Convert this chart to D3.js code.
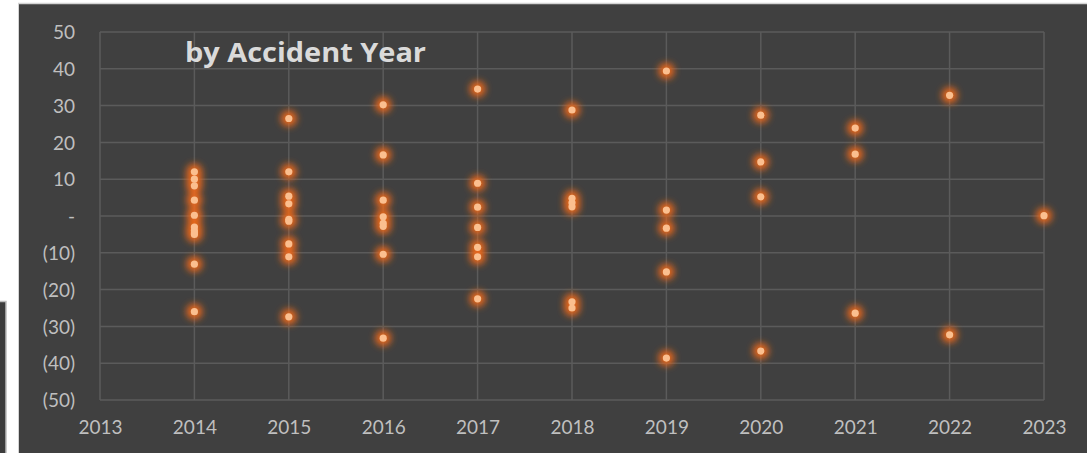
<!DOCTYPE html>
<html>
<head>
<meta charset="utf-8">
<script src="https://cdn.jsdelivr.net/npm/d3@7"></script>
<style>
  html, body { margin: 0; padding: 0; background: #fff; }
  svg { display: block; }
</style>
</head>
<body>
<svg id="chart" width="1087" height="453"></svg>
<script>
// Scatter of development by accident year

const years = [2014, 2015, 2016, 2017, 2018, 2019, 2020, 2021, 2022, 2023];
const values = [
  [12.0, 10.0, 8.2, 4.3, 0.2, -3.0, -4.0, -4.6, -5.0, -13.1, -26.0],
  [26.5, 12.0, 5.4, 3.3, -0.9, -1.4, -7.6, -11.1, -27.4],
  [30.2, 16.6, 4.3, -0.2, -2.0, -2.8, -10.4, -33.2],
  [34.5, 8.9, 2.4, -3.1, -8.5, -11.1, -22.5],
  [28.8, 4.8, 3.6, 2.5, -23.3, -25.0],
  [39.4, 1.6, -3.3, -15.2, -38.6],
  [27.4, 14.7, 5.2, -36.7],
  [23.9, 16.8, -26.4],
  [32.8, -32.3],
  [0.1]
];
const xTicks = d3.range(2013, 2024);
const yTicks = d3.range(-50, 51, 10);
const title = 'by Accident Year';

const svg = d3.select('#chart');

// panel background
svg.append('rect')
  .attr('x', 19).attr('y', 4).attr('width', 1068).attr('height', 449)
  .attr('fill', '#404040');
svg.append('line')
  .attr('x1', 18).attr('x2', 1087).attr('y1', 3.5).attr('y2', 3.5)
  .attr('stroke', '#d4d4d4').attr('stroke-width', 1.5);
svg.append('line')
  .attr('x1', 18.5).attr('x2', 18.5).attr('y1', 3).attr('y2', 453)
  .attr('stroke', '#d4d4d4').attr('stroke-width', 1);

// neighbouring chart peeking in at the left
svg.append('rect')
  .attr('x', -2).attr('y', 301.5).attr('width', 8).attr('height', 160)
  .attr('fill', '#3c3c3c').attr('stroke', '#bdbdbd').attr('stroke-width', 1.5);

const x = d3.scaleLinear().domain([2013, 2023]).range([100, 1044]);
const y = d3.scaleLinear().domain([-50, 50]).range([400, 32]);

const defs = svg.append('defs');
const glow = defs.append('filter').attr('id', 'glow')
  .attr('x', '-200%').attr('y', '-200%').attr('width', '500%').attr('height', '500%');
glow.append('feGaussianBlur').attr('stdDeviation', 3.5);

// grid
const grid = svg.append('g').attr('stroke', '#5b5b5b').attr('stroke-width', 1.5);
grid.selectAll('line.h').data(yTicks).join('line')
  .attr('class', 'h')
  .attr('x1', x(2013)).attr('x2', x(2023))
  .attr('y1', d => y(d)).attr('y2', d => y(d));
grid.selectAll('line.v').data(xTicks).join('line')
  .attr('class', 'v')
  .attr('x1', d => x(d)).attr('x2', d => x(d))
  .attr('y1', y(50)).attr('y2', y(-50));

// axes
const fmt = d => d === 0 ? '-' : d < 0 ? `(${-d})` : `${d}`;
const yAxis = svg.append('g')
  .attr('transform', `translate(${x(2013) - 25},0)`)
  .call(d3.axisLeft(y).tickValues(yTicks).tickFormat(fmt).tickSize(0).tickPadding(0));
const xAxis = svg.append('g')
  .attr('transform', `translate(0,${y(-50) + 18})`)
  .call(d3.axisBottom(x).tickValues(xTicks).tickFormat(d3.format('d')).tickSize(0).tickPadding(0));
[yAxis, xAxis].forEach(a => {
  a.select('.domain').remove();
  a.selectAll('text')
    .attr('fill', '#bfbfbf')
    .style('font-family', 'Lato, "Open Sans", sans-serif')
    .style('font-size', '19px');
});
yAxis.selectAll('text').attr('dy', '0.35em');
xAxis.selectAll('text').attr('dy', '0.85em');

svg.append('text')
  .attr('x', 185).attr('y', 62)
  .attr('fill', '#dadada')
  .style('font-family', '"Open Sans", sans-serif')
  .style('font-weight', 'bold')
  .style('font-size', '26px')
  .attr('textLength', 241)
  .attr('lengthAdjust', 'spacingAndGlyphs')
  .text(title);

// points
const points = [];
years.forEach((yr, i) => values[i].forEach(v => points.push({ yr, v })));

svg.append('g').attr('filter', 'url(#glow)')
  .selectAll('circle').data(points).join('circle')
  .attr('cx', d => x(d.yr)).attr('cy', d => y(d.v))
  .attr('r', 8)
  .attr('fill', '#e8681a');

svg.append('g')
  .selectAll('circle').data(points).join('circle')
  .attr('cx', d => x(d.yr)).attr('cy', d => y(d.v))
  .attr('r', 3.6)
  .attr('fill', '#fbbf8f');
</script>
</body>
</html>
